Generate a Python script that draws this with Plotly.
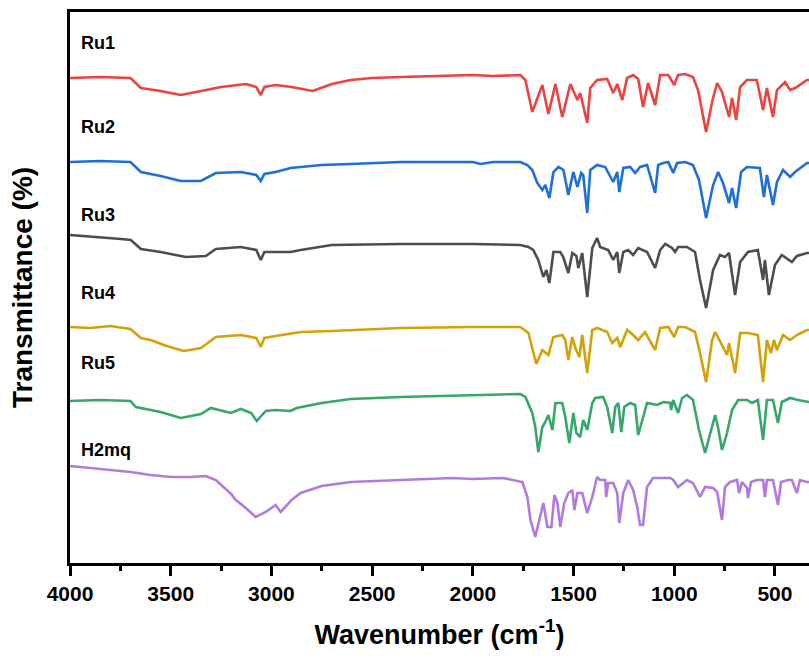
import plotly.graph_objects as go

# ---------------- data (wavenumber in cm-1, transmittance offset a.u.) ----------------
ru1_wn = [4000, 3850, 3700, 3648, 3550, 3450, 3350, 3250, 3127, 3075, 3053, 3035, 2979, 2900, 2795, 2700,
          2607, 2500, 2359, 2200, 2000, 1900, 1764, 1739, 1705, 1655, 1625, 1590, 1556, 1516, 1481, 1467,
          1432, 1417, 1383, 1333, 1303, 1283, 1258, 1234, 1204, 1179, 1155, 1130, 1095, 1070, 1030, 1000,
          981, 946, 907, 882, 842, 810, 787, 763, 728, 713, 693, 673, 639, 590, 559, 540, 510, 490, 450,
          425, 400, 341, 330]
ru1_t = [522, 523, 522, 512, 509, 505, 509, 513, 516, 513, 505, 513, 515, 513, 509, 516,
         520, 522, 523, 524, 525, 524, 525, 520, 488, 515, 486, 516, 483, 516, 500, 507,
         477, 512, 520, 521, 507, 516, 500, 522, 525, 521, 493, 517, 495, 525, 525, 515,
         525, 526, 523, 510, 468, 500, 517, 508, 483, 502, 480, 513, 520, 520, 490, 512, 483, 510, 518,
         510, 512, 520, 520]

ru2_wn = [4000, 3850, 3700, 3648, 3550, 3450, 3350, 3276, 3152, 3075, 3053, 3035, 2979, 2905, 2855, 2750,
          2607, 2359, 2000, 1962, 1900, 1764, 1729, 1705, 1680, 1655, 1640, 1620, 1600, 1575, 1550, 1526,
          1501, 1481, 1462, 1452, 1432, 1417, 1383, 1343, 1303, 1283, 1273, 1253, 1219, 1194, 1170, 1135,
          1095, 1080, 1055, 1030, 1005, 986, 946, 907, 877, 842, 807, 782, 758, 728, 713, 693, 668, 639,
          575, 555, 540, 510, 490, 460, 425, 400, 341, 330]
ru2_t = [438, 439, 438, 428, 424, 419, 419, 427, 428, 425, 419, 426, 428, 432, 433, 435,
         436, 438, 438, 436, 438, 438, 435, 430, 417, 410, 415, 402, 428, 433, 430, 405,
         428, 413, 427, 425, 387, 430, 435, 433, 418, 428, 408, 432, 433, 427, 433, 435,
         407, 435, 437, 438, 427, 437, 438, 435, 420, 382, 415, 428, 417, 397, 412, 392, 428, 433,
         432, 403, 425, 395, 418, 430, 423, 428, 437, 437]

ru3_wn = [4000, 3850, 3747, 3698, 3648, 3550, 3425, 3326, 3276, 3152, 3075, 3053, 3035, 2905, 2855, 2700,
          2359, 2000, 1764, 1724, 1700, 1675, 1650, 1635, 1620, 1600, 1566, 1551, 1526, 1506, 1486, 1476,
          1457, 1432, 1407, 1383, 1368, 1328, 1303, 1283, 1273, 1253, 1229, 1204, 1179, 1135, 1095, 1070,
          1045, 1011, 996, 981, 937, 897, 872, 842, 807, 773, 748, 728, 698, 673, 634, 585, 559, 550,
          530, 500, 466, 416, 391, 341, 330]
ru3_t = [365, 363, 361, 360, 351, 348, 343, 344, 351, 353, 350, 340, 348, 348, 350, 355,
         356, 356, 355, 353, 350, 340, 323, 330, 317, 348, 348, 343, 327, 347, 344, 332,
         347, 303, 352, 362, 353, 350, 340, 348, 327, 348, 350, 345, 352, 348, 332, 350,
         356, 352, 348, 353, 353, 348, 320, 292, 330, 345, 343, 347, 305, 338, 348, 350, 320, 340,
         305, 335, 345, 338, 344, 347, 347]

ru4_wn = [4000, 3900, 3800, 3700, 3648, 3600, 3520, 3435, 3350, 3276, 3152, 3075, 3053, 3035, 2979, 2855,
          2700, 2359, 2000, 1764, 1724, 1700, 1685, 1655, 1625, 1600, 1556, 1541, 1526, 1506, 1491, 1471,
          1457, 1432, 1407, 1383, 1333, 1308, 1283, 1268, 1234, 1204, 1179, 1145, 1095, 1070, 1030, 1000,
          981, 946, 897, 872, 842, 812, 797, 763, 738, 728, 698, 673, 634, 585, 559, 540, 520, 505,
          490, 460, 425, 391, 341, 330]
ru4_t = [273, 272, 274, 271, 262, 260, 254, 249, 252, 263, 265, 262, 253, 262, 264, 268,
         269, 272, 273, 273, 267, 247, 236, 250, 245, 263, 265, 260, 240, 263, 252, 243,
         265, 227, 270, 272, 268, 257, 262, 253, 270, 265, 260, 268, 250, 272, 273, 263,
         273, 273, 268, 247, 218, 260, 268, 255, 245, 257, 227, 267, 267, 265, 218, 260, 247, 260,
         250, 265, 260, 265, 270, 270]

ru5_wn = [4000, 3850, 3700, 3673, 3550, 3450, 3350, 3301, 3202, 3152, 3100, 3073, 3028, 2979, 2905, 2875,
          2750, 2607, 2359, 2000, 1764, 1739, 1705, 1690, 1675, 1655, 1640, 1625, 1605, 1590, 1556, 1541,
          1521, 1501, 1486, 1467, 1452, 1432, 1407, 1392, 1353, 1333, 1308, 1293, 1278, 1263, 1248, 1219,
          1194, 1179, 1155, 1135, 1085, 1055, 1020, 1016, 1005, 981, 961, 937, 907, 877, 847, 822, 797,
          782, 763, 738, 713, 683, 639, 614, 585, 559, 540, 510, 485, 466, 425, 386, 341, 330]
ru5_t = [199, 200, 199, 193, 188, 182, 186, 192, 187, 191, 187, 179, 189, 190, 189, 192,
         197, 201, 203, 205, 206, 203, 187, 173, 148, 173, 178, 185, 170, 197, 197, 183,
         157, 187, 167, 163, 180, 170, 197, 202, 203, 193, 167, 193, 197, 168, 193, 197,
         195, 165, 183, 197, 195, 198, 197, 190, 200, 187, 202, 205, 200, 170, 147, 167, 185,
         172, 150, 167, 190, 200, 200, 197, 200, 160, 200, 200, 177, 198, 202, 200, 198, 198]

h2mq_wn = [4000, 3900, 3800, 3698, 3600, 3499, 3400, 3326, 3276, 3200, 3177, 3127, 3078, 3028, 2979, 2954,
           2900, 2855, 2750, 2607, 2359, 2100, 2000, 1850, 1754, 1729, 1714, 1690, 1670, 1650, 1630, 1610,
           1595, 1580, 1566, 1546, 1526, 1506, 1496, 1481, 1457, 1432, 1407, 1383, 1368, 1343, 1338, 1328,
           1303, 1283, 1273, 1253, 1229, 1204, 1184, 1170, 1155, 1135, 1105, 1020, 1005, 981, 937, 907,
           872, 847, 807, 787, 763, 748, 723, 688, 678, 664, 639, 634, 619, 590, 559, 550, 540, 510,
           485, 470, 436, 416, 391, 376, 341, 330]
h2mq_t = [134, 132, 130, 128, 125, 123, 123, 124, 120, 106, 100, 92, 83, 88, 95, 88,
          100, 107, 114, 118, 120, 122, 121, 122, 118, 103, 80, 63, 80, 97, 73, 73,
          105, 97, 73, 97, 107, 110, 90, 107, 107, 87, 103, 123, 120, 120, 103, 117,
          117, 107, 77, 107, 120, 110, 93, 75, 75, 113, 122, 122, 120, 113, 120, 117,
          103, 113, 112, 108, 80, 113, 118, 120, 107, 118, 112, 102, 118, 120, 120, 103, 120, 120,
          95, 118, 120, 120, 107, 120, 118, 118]

series_names = ["Ru1", "Ru2", "Ru3", "Ru4", "Ru5", "H2mq"]
series_wn = [ru1_wn, ru2_wn, ru3_wn, ru4_wn, ru5_wn, h2mq_wn]
series_t = [ru1_t, ru2_t, ru3_t, ru4_t, ru5_t, h2mq_t]
series_colors = ["#EF4140", "#1F6FDB", "#4D4D4D", "#D4A106", "#35A76A", "#B07BE0"]
label_y = [557, 473, 385, 307, 237, 150]

x_ticks = [4000, 3500, 3000, 2500, 2000, 1500, 1000, 500]

# ---------------- figure ----------------
fig = go.Figure()
for name, wn, t, col in zip(series_names, series_wn, series_t, series_colors):
    fig.add_trace(go.Scatter(x=wn, y=t, mode="lines", name=name,
                             line=dict(color=col, width=2.6), showlegend=False))

for name, ly in zip(series_names, label_y):
    fig.add_annotation(x=3955, y=ly, text="<b>%s</b>" % name, showarrow=False,
                       xanchor="left", yanchor="middle",
                       font=dict(family="Arial, Liberation Sans", size=18, color="black"))

fig.update_layout(
    width=809, height=660,
    margin=dict(l=70, r=0, t=12, b=97),
    plot_bgcolor="white", paper_bgcolor="white",
    font=dict(family="Arial, Liberation Sans", color="black"),
    xaxis=dict(
        range=[4000, 331], showgrid=False, zeroline=False,
        showline=True, linecolor="black", linewidth=3, mirror=True,
        ticks="outside", ticklen=10, tickwidth=3, tickcolor="black",
        tickvals=x_ticks, ticktext=["<b>%d</b>" % v for v in x_ticks],
        tickfont=dict(size=21, family="Arial, Liberation Sans"),
        minor=dict(ticks="outside", ticklen=5, tickwidth=3, tickcolor="black", dtick=250, tick0=0),
        title=dict(text="<b>Wavenumber (cm<sup>-1</sup>)</b>", font=dict(size=27), standoff=21),
    ),
    yaxis=dict(
        range=[37, 588], showgrid=False, zeroline=False,
        showline=True, linecolor="black", linewidth=3, mirror=False,
        showticklabels=False, ticks="",
        title=dict(text="<b>Transmittance (%)</b>", font=dict(size=28), standoff=27),
    ),
)

fig.write_html("out.html")
